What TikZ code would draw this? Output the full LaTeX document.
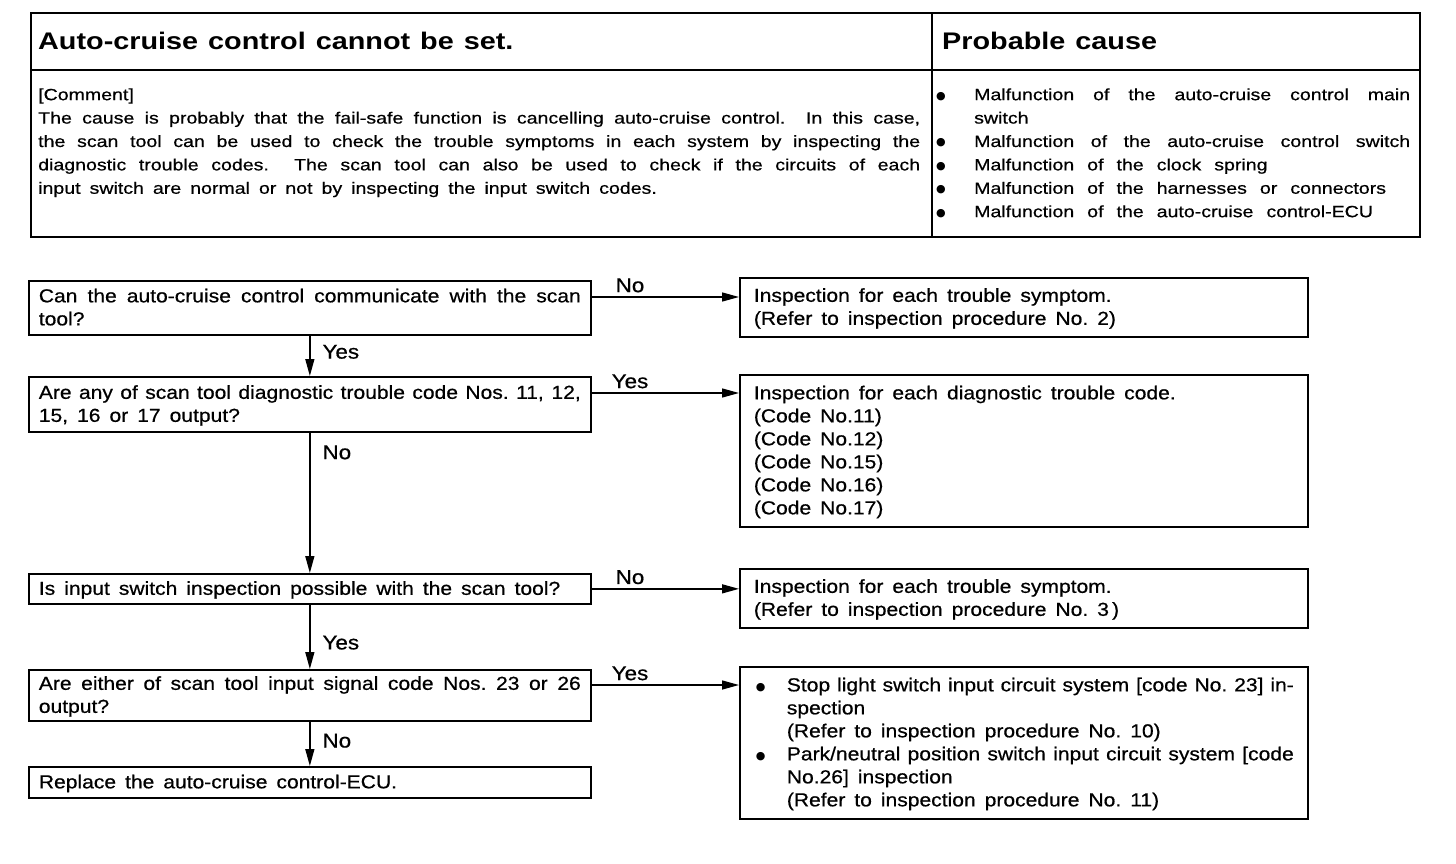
\documentclass[tikz,border=0pt]{standalone}
\usepackage{fontspec}
\setmainfont[FakeStretch=1.2, UprightFeatures={FakeBold=0.6}]{Liberation Sans}
\newfontfamily\flowfamily[FakeStretch=1.12, FakeBold=0.6]{Liberation Sans}
\newfontfamily\symfamily{DejaVu Sans}
\usetikzlibrary{positioning,arrows.meta}

\newcommand{\wordsp}{9pt}
\newcommand{\wsp}{\spaceskip=\wordsp plus 8pt minus 3.5pt\relax\xspaceskip=\spaceskip}
\newcommand{\headtext}{\bfseries\fontsize{24}{28}\selectfont\spaceskip=10pt\relax}
\newcommand{\tabtext}{\fontsize{16.3}{23.4}\selectfont\parindent=0pt\relax}
\newcommand{\flowtext}{\flowfamily\fontsize{18.8}{23}\selectfont\parindent=0pt\relax}
\newcommand{\lstrut}{\rule[-0.24\baselineskip]{0pt}{\baselineskip}}
\newcommand{\jl}[1]{\noindent\hbox to\hsize{\wsp\lstrut#1}}
\newcommand{\rl}[1]{\lstrut\wsp#1}
\newcommand{\bul}[2]{\hbox to #1{\hskip #2\raisebox{1pt}{\symfamily\fontsize{11}{11}\selectfont ●}\hfil}}

\begin{document}
\begin{tikzpicture}[x=1pt, y=-1pt,
  box/.style={draw, line width=1.7pt, anchor=north west, inner ysep=0pt, align=left, font=\flowtext},
  qbox/.style={box, inner xsep=10pt, text width=542pt},
  abox/.style={box, inner xsep=14pt, text width=540pt},
  arrow/.style={-{Triangle[length=17pt, width=9pt]}, line width=1.4pt},
  lbl/.style={font=\flowfamily\fontsize{20}{24}\selectfont, inner sep=0pt},
  head/.style={anchor=base west, inner sep=0pt, font=\headtext},
  cell/.style={anchor=north west, inner sep=0pt, align=left, font=\tabtext},
]
\useasboundingbox (0,0) rectangle (1456,864);

% === TROUBLE TABLE ===
\draw[line width=1.7pt] (31,13) rectangle (1420,237);
\draw[line width=1.7pt] (31,70) -- (1420,70);
\draw[line width=1.2pt] (932,13) -- (932,237);

\node[head] (title) at (38,50) {Auto-cruise control cannot be set.};
\node[head] (causehead) at (942,50) {Probable cause};

\node[cell, text width=882pt] (comment) at (38,82.2)
  {\rl{[Comment]}\\
   \jl{The cause is probably that the fail-safe function is cancelling auto-cruise control.~ In this case,}\\
   \jl{the scan tool can be used to check the trouble symptoms in each system by inspecting the}\\
   \jl{diagnostic trouble codes.~ The scan tool can also be used to check if the circuits of each}\\
   \rl{input switch are normal or not by inspecting the input switch codes.}};

\node[cell, text width=474pt, font=\tabtext\renewcommand{\wordsp}{13pt}] (causes) at (936,82.2)
  {\jl{\bul{38pt}{0pt}Malfunction of the auto-cruise control main}\\
   \rl{\hspace*{38pt}switch}\\
   \jl{\bul{38pt}{0pt}Malfunction of the auto-cruise control switch}\\
   \rl{\bul{38pt}{0pt}Malfunction of the clock spring}\\
   \rl{\bul{38pt}{0pt}Malfunction of the harnesses or connectors}\\
   \rl{\bul{38pt}{0pt}Malfunction of the auto-cruise control-ECU}};

% === FLOW CHART ===
\node[qbox, minimum height=54pt] (q1) at (28,280)
  {\jl{Can the auto-cruise control communicate with the scan}\\ \rl{tool?}};
\node[qbox, minimum height=55pt] (q2) at (28,376)
  {\jl{Are any of scan tool diagnostic trouble code Nos. 11, 12,}\\ \rl{15, 16 or 17 output?}};
\node[qbox, minimum height=30pt] (q3) at (28,573)
  {\rl{Is input switch inspection possible with the scan tool?}};
\node[qbox, minimum height=51pt] (q4) at (28,669)
  {\jl{Are either of scan tool input signal code Nos. 23 or 26}\\ \rl{output?}};
\node[qbox, minimum height=31pt] (q5) at (28,766)
  {\rl{Replace the auto-cruise control-ECU.}};

\node[abox, minimum height=59pt] (r1) at (739,277)
  {\rl{Inspection for each trouble symptom.}\\
   \rl{(Refer to inspection procedure No. 2)}};
\node[abox, minimum height=152pt] (r2) at (739,374)
  {\rl{Inspection for each diagnostic trouble code.}\\
   \rl{(Code No.11)}\\ \rl{(Code No.12)}\\ \rl{(Code No.15)}\\
   \rl{(Code No.16)}\\ \rl{(Code No.17)}};
\node[abox, minimum height=59pt] (r3) at (739,568)
  {\rl{Inspection for each trouble symptom.}\\
   \rl{(Refer to inspection procedure No. 3\,)}};
\node[abox, minimum height=152pt] (r4) at (739,666)
  {\jl{\bul{33pt}{2pt}Stop light switch input circuit system [code No. 23] in-}\\
   \rl{\hspace*{33pt}spection}\\
   \rl{\hspace*{33pt}(Refer to inspection procedure No. 10)}\\
   \jl{\bul{33pt}{2pt}Park/neutral position switch input circuit system [code}\\
   \rl{\hspace*{33pt}No.26] inspection}\\
   \rl{\hspace*{33pt}(Refer to inspection procedure No. 11)}};

% branches to the right
\draw[arrow] ([yshift=-17pt]q1.north east) coordinate (c1) -- (c1 -| r1.west)
  node[lbl, pos=0.26, above=4pt] (n1) {No};
\draw[arrow] ([yshift=-17pt]q2.north east) coordinate (c2) -- (c2 -| r2.west)
  node[lbl, pos=0.26, above=4pt] (n2) {Yes};
\draw[arrow] (q3.east) -- (q3.east -| r3.west)
  node[lbl, pos=0.26, above=4pt] (n3) {No};
\draw[arrow] ([yshift=-16pt]q4.north east) coordinate (c4) -- (c4 -| r4.west)
  node[lbl, pos=0.26, above=4pt] (n4) {Yes};

% main line down
\draw[arrow] (q1.south) -- (q2.north) node[lbl, pos=0.4, right=12pt] (y1) {Yes};
\draw[arrow] (q2.south) -- (q3.north) node[lbl, pos=0.14, right=12pt] (y2) {No};
\draw[arrow] (q3.south) -- (q4.north) node[lbl, pos=0.59, right=12pt] (y3) {Yes};
\draw[arrow] (q4.south) -- (q5.north) node[lbl, pos=0.43, right=12pt] (y4) {No};
\end{tikzpicture}
\end{document}
